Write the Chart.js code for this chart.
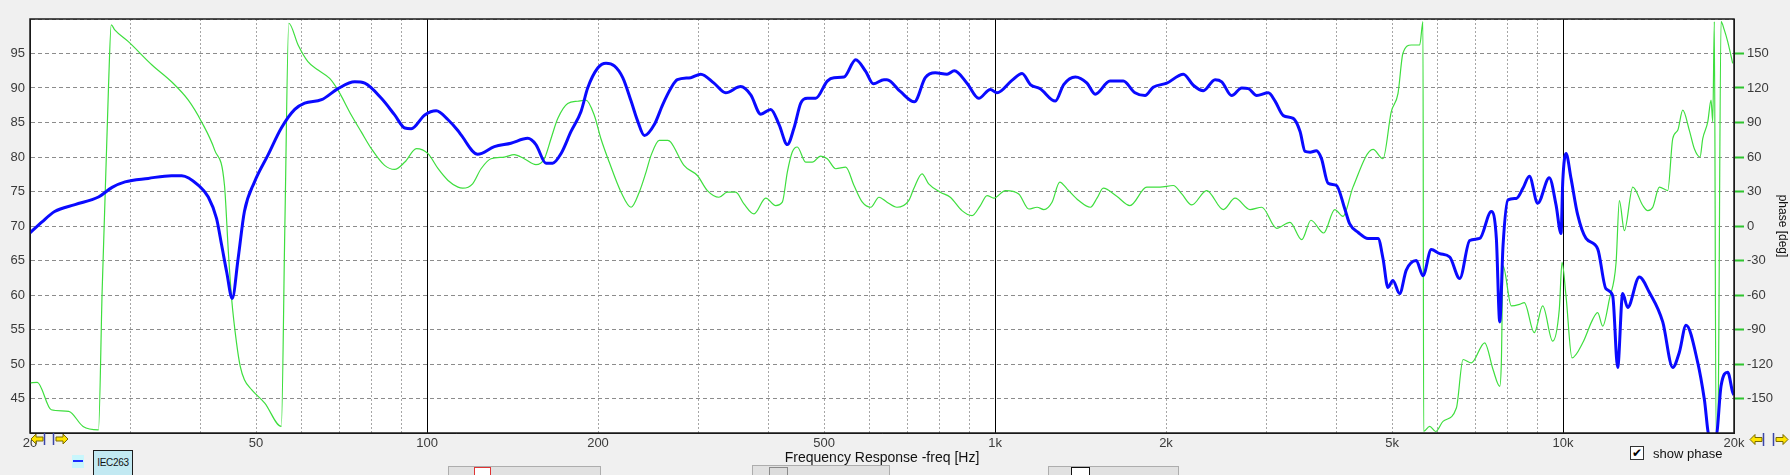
<!DOCTYPE html>
<html><head><meta charset="utf-8">
<script src="https://cdn.jsdelivr.net/npm/chart.js@4.4.1/dist/chart.umd.min.js"></script>
<style>
html,body{margin:0;padding:0;background:#f0f0f0;}
#wrap{position:relative;width:1790px;height:475px;overflow:hidden;font-family:"Liberation Sans",Arial,sans-serif;}
#c{position:absolute;left:0;top:0;}
.abs{position:absolute;box-sizing:border-box;}
.btn{background:#e1e1e1;border:1px solid #adadad;height:24px;}
</style></head><body>
<div id="wrap">
<canvas id="c" width="1790" height="475"></canvas>
<svg class="abs" style="left:30px;top:432px" width="40" height="14" viewBox="0 0 40 14">
  <polygon points="1,7 6,2 6,5 13,5 13,9 6,9 6,12" fill="#ffe400" stroke="#7a6a00" stroke-width="1"/>
  <line x1="14.5" y1="1" x2="14.5" y2="13" stroke="#3a44a8" stroke-width="1.5"/>
  <line x1="23.5" y1="1" x2="23.5" y2="13" stroke="#3a44a8" stroke-width="1.5"/>
  <polygon points="26,5 33,5 33,2 38,7 33,12 33,9 26,9" fill="#ffe400" stroke="#7a6a00" stroke-width="1"/>
</svg>
<svg class="abs" style="left:1749px;top:432px" width="41" height="15" viewBox="0 0 41 15">
  <polygon points="1,7.5 6,2.5 6,5.5 13,5.5 13,9.5 6,9.5 6,12.5" fill="#ffe400" stroke="#7a6a00" stroke-width="1"/>
  <line x1="14.5" y1="1" x2="14.5" y2="14" stroke="#3a44a8" stroke-width="1.5"/>
  <line x1="24.5" y1="1" x2="24.5" y2="14" stroke="#3a44a8" stroke-width="1.5"/>
  <polygon points="27,5.5 34,5.5 34,2.5 39,7.5 34,12.5 34,9.5 27,9.5" fill="#ffe400" stroke="#7a6a00" stroke-width="1"/>
</svg>
<div class="abs" style="left:72px;top:455px;width:12px;height:13px;background:#c8f6fc;"></div>
<div class="abs" style="left:73px;top:460px;width:10px;height:2px;background:#1a2cff;"></div>
<div class="abs" style="left:93px;top:450px;width:40px;height:30px;background:#c2e9f2;border:1.5px solid #1c1c1c;font-size:10px;line-height:12px;padding-top:6px;text-align:center;color:#111;letter-spacing:-0.3px;">IEC263</div>
<div class="abs btn" style="left:448px;top:466px;width:153px;"></div>
<div class="abs" style="left:474px;top:467px;width:17px;height:12px;background:#fff;border:1.5px solid #e03434;"></div>
<div class="abs btn" style="left:752px;top:465px;width:138px;"></div>
<div class="abs" style="left:769px;top:467px;width:19px;height:12px;background:#dcdcdc;border:1px solid #8a8a8a;"></div>
<div class="abs btn" style="left:1048px;top:466px;width:131px;"></div>
<div class="abs" style="left:1071px;top:467px;width:19px;height:12px;background:#fff;border:1.5px solid #111;"></div>
<div class="abs" style="left:1630px;top:446px;width:14px;height:14px;background:#fff;border:1px solid #333;font-size:12px;line-height:12px;text-align:center;color:#000;">&#10004;</div>
<div class="abs" style="left:1653px;top:446px;font-size:13px;line-height:15px;color:#111;">show phase</div>
</div>
<script>
// ---- data ----
const magFreq = [20,21.0,22.1,24.0,26.4,27.9,29.4,32.3,35.5,37.0,39.6,41.2,42.6,43.5,44.4,45.4,46.5,47.7,49.7,52.5,55.4,58.5,60.9,65.2,69.7,74.6,77.7,83.1,87.7,91.4,93.8,99.1,103.8,108.9,113.4,114.8,122.8,131.4,140.5,150.4,155.5,162.0,166.4,172.2,179.3,186.7,191.8,199.8,206.6,213.7,221.1,228.7,234.9,241.4,251.3,260.0,268.9,275.9,291.3,303.3,320.1,335.6,356.7,371.5,386.9,402.8,416.7,430.9,442.7,455.0,467.2,483.4,506.6,520.6,542.2,568.5,592.0,610.6,637.6,645.4,681.1,721.0,753.8,785.0,823.2,848.0,892.6,936.0,981.2,1008,1071,1116,1154,1201,1277,1321,1385,1452,1501,1594,1682,1764,1837,1899,2006,2146,2234,2327,2440,2507,2610,2719,2793,2889,3028,3112,3218,3350,3444,3515,3587,3679,3755,3858,3990,4128,4212,4356,4536,4724,4820,4918,5018,5156,5297,5516,5668,5862,6066,6317,6579,6851,7135,7478,7632,7738,7842,8001,8276,8504,8724,9026,9458,9719,9920,9990,10122,10330,10614,10978,11508,11902,12230,12480,12736,12996,13624,14188,14982,15602,16026,16466,17266,17734,18096,18596,18976,19496,19894,20000];
const magDb = [69.0,70.6,72.1,73.1,74.2,75.6,76.4,76.9,77.3,77.3,75.9,74.2,71.1,67.2,63.3,59.5,65.3,72.1,76.4,80.3,84.2,86.9,87.8,88.3,89.9,90.9,90.7,88.5,86.1,84.2,84.1,86.1,86.7,85.4,83.8,83.2,80.4,81.5,82.0,82.7,81.8,79.1,79.1,80.5,83.7,86.6,90.0,92.9,93.6,93.2,91.5,88.1,85.2,83.1,84.7,87.6,90.0,91.2,91.5,92.0,90.7,89.3,90.2,89.0,86.2,86.9,84.7,81.8,84.2,87.8,88.5,88.5,91.0,91.5,91.6,94.1,92.4,90.6,91.2,91.2,89.5,88.0,91.5,92.2,92.0,92.5,90.7,88.5,89.8,89.3,91.1,92.1,90.5,89.9,88.1,90.5,91.6,90.7,89.1,91.0,91.0,89.3,88.9,90.1,90.7,92.0,90.4,89.6,91.2,90.9,88.9,90.0,89.9,88.9,89.3,88.1,86.0,85.6,83.7,80.8,80.7,80.9,79.8,76.2,75.9,72.5,70.3,69.1,68.2,68.2,65.3,61.1,62.1,60.2,63.6,65.0,62.8,66.6,66.0,65.5,62.4,67.9,68.2,72.1,68.2,56.1,67.2,73.8,74.0,75.5,77.2,73.3,77.0,73.1,68.9,76.5,80.5,76.9,71.6,68.2,66.7,60.9,59.9,49.5,60.2,58.2,62.6,60.4,56.1,49.5,51.7,55.6,50.2,44.9,39.5,39.5,46.8,48.8,45.9,45.5];

const phaseFreq = [20,20.6,21.8,23.4,24.8,26.4,26.8,27.5,27.8,28.2,29.8,32.8,35.5,38.0,40.1,42.3,44.0,44.7,45.3,46.2,46.9,47.7,49.1,51.8,55.4,56.2,57.1,59.3,61.7,64.3,67.4,69.7,73.6,76.6,79.8,84.2,87.7,91.4,95.8,100.4,104.6,108.9,113.4,115.6,120.3,124.5,129.6,136.8,142.4,148.3,155.5,160.9,165.3,169.9,176.9,184.2,190.5,197.0,202.4,209.3,219.6,228.7,236.4,243.0,248.0,256.4,265.4,268.6,283.4,299.2,311.6,326.6,337.8,349.5,361.4,376.4,394.8,411.0,422.2,430.9,439.6,448.6,464.1,476.8,493.3,506.6,524.3,546.0,564.6,584.0,604.2,624.8,645.4,672.0,704.8,719.2,743.8,764.2,801.2,834.2,874.6,911.0,942.2,968.2,994.8,1043,1101,1147,1186,1219,1260,1300,1339,1404,1472,1512,1551,1638,1728,1850,1952,2060,2132,2220,2358,2523,2646,2812,2949,3133,3306,3467,3600,3790,3964,4098,4268,4630,4820,4984,5122,5226,5408,5594,5668,5684,5824,5968,6148,6490,6668,6896,7280,7530,7738,7788,7842,8110,8390,8548,8900,9210,9590,9850,9960,10122,10372,10832,11280,11508,11746,12066,12400,12566,12824,13268,13818,14100,14388,14778,15290,15602,15922,16248,16688,17030,17426,17620,17982,18224,18350,18468,18596,18740,18976,19228,19496,19894];
const phaseDeg = [-136.5,-135.9,-159.8,-161.2,-174.3,-177.2,-55,122.5,174.9,170.5,160.3,140,125.4,109.4,90.5,65.8,35.2,-23,-63.7,-101.6,-122,-133.6,-142.3,-154,-174.3,0.3,176.3,157.4,142.9,135.6,128.3,118.1,96.3,81.8,67.2,52.7,49.2,55.6,67.2,62.9,49.8,39.6,33.8,32.9,36.7,49.8,58.5,59.9,62.0,58.5,53.3,58.5,75.9,93.4,106.5,108.5,109.4,96.3,75.9,55.6,29.4,16.3,29.4,46.9,61.4,74.5,74.5,73,52.7,43.9,30.8,25,29.4,29.4,19.2,10.5,24.2,17.8,20.7,46.9,64.3,68.7,55.6,55.6,60.8,58.5,49.8,51.2,35.2,20.7,16.3,25,20.7,16.3,22.1,32.3,45.4,36.7,29.4,25,13.4,9,17.8,26.5,24.2,30.8,27.9,14.8,16.3,14.3,20.7,38.1,32.3,22.1,16.3,24.2,32.9,25.9,17.8,33.8,33.8,35.2,27.9,18.3,30.8,14.3,24.2,14.3,16.3,-2,3.2,-11.9,5,-6.1,14.3,8.4,33.8,66.6,58.5,99.2,115.2,150.2,157.4,157.4,177.8,-178.7,-174.3,-178.7,-169.9,-158.3,-116.1,-119,-101.6,-124.8,-139.4,-119,-34.6,-69.5,-68.1,-66.6,-92.8,-69.5,-100.1,-72.5,-31.7,-60.8,-114.7,-101.6,-81.2,-75.4,-87,-63.7,-31.7,22.1,-4.1,33.8,17.8,13.4,16.3,33.8,30.8,76,83.2,100.7,83.2,67.2,60,76,90.5,109.4,90.5,177.8,-178.7,-172,177.8,170.5,160.3,141.4];

const xGridValues = [20,30,40,50,60,70,80,90,100,200,300,400,500,600,700,800,900,1000,2000,3000,4000,5000,6000,7000,8000,9000,10000,20000];
const xMajorValues = [100,1000,10000];
const xLabelValues = [20,50,100,200,500,1000,2000,5000,10000,20000];
const xLabelText = ['20','50','100','200','500','1k','2k','5k','10k','20k'];
const yGridValues = [40,45,50,55,60,65,70,75,80,85,90,95,100];
const yLabelValues = [45,50,55,60,65,70,75,80,85,90,95];
const phaseTickValues = [-180,-150,-120,-90,-60,-30,0,30,60,90,120,150,180];
const phaseLabelValues = [-150,-120,-90,-60,-30,0,30,60,90,120,150];

// ---- chart ----
const FONT = '"Liberation Sans", Arial, sans-serif';
Chart.defaults.font.family = FONT;
Chart.defaults.font.size = 13;

const magData = magFreq.map((f, i) => ({x: f, y: magDb[i]}));
const phaseData = phaseFreq.map((f, i) => ({x: f, y: phaseDeg[i]}));

const bgPlugin = {
  id: 'bg',
  beforeDraw(chart) {
    const {ctx, chartArea: a} = chart;
    ctx.save();
    ctx.fillStyle = '#f0f0f0';
    ctx.fillRect(0, 0, chart.width, chart.height);
    ctx.fillStyle = '#ffffff';
    ctx.fillRect(a.left, a.top, a.right - a.left, a.bottom - a.top);
    ctx.restore();
  },
  afterDatasetsDraw(chart) {
    const {ctx, chartArea: a} = chart;
    ctx.save();
    ctx.strokeStyle = '#1a1a1a';
    ctx.lineWidth = 1.5;
    ctx.strokeRect(a.left, a.top, a.right - a.left, a.bottom - a.top);
    ctx.restore();
  }
};

const isMajor = ctx => ctx && ctx.tick && xMajorValues.includes(ctx.tick.value);

new Chart(document.getElementById('c'), {
  type: 'line',
  data: {
    datasets: [
      {label: 'IEC263', data: magData, yAxisID: 'y', borderColor: '#0a0aff', borderWidth: 3,
       pointRadius: 0, cubicInterpolationMode: 'monotone', order: 0},
      {label: 'phase', data: phaseData, yAxisID: 'y2', borderColor: '#3ede3e', borderWidth: 1.2,
       pointRadius: 0, cubicInterpolationMode: 'monotone', order: 1}
    ]
  },
  options: {
    responsive: false,
    animation: false,
    devicePixelRatio: 1,
    layout: {padding: {top: 19, left: 0, right: 0, bottom: 0}},
    plugins: {legend: {display: false}, tooltip: {enabled: false}},
    scales: {
      x: {
        type: 'logarithmic', position: 'bottom', min: 20, max: 20000,
        afterBuildTicks: s => { s.ticks = xGridValues.map(v => ({value: v})); },
        afterFit: s => { s.height = 42; },
        ticks: {
          autoSkip: false, maxRotation: 0, minRotation: 0, padding: 3, color: '#3a3a3a',
          font: {size: 13},
          callback: v => { const i = xLabelValues.indexOf(v); return i >= 0 ? xLabelText[i] : ''; }
        },
        grid: {
          drawTicks: false, lineWidth: 1,
          color: ctx => isMajor(ctx) ? '#000000' : '#a6a6a6'
        },
        border: {display: true, color: '#1a1a1a', width: 1,
          dash: ctx => isMajor(ctx) ? [] : [2, 2]},
        title: {display: true, text: 'Frequency Response -freq [Hz]', color: '#111',
          font: {size: 14}, padding: {top: 0, bottom: 8}}
      },
      y: {
        type: 'linear', position: 'left', min: 40, max: 100,
        afterBuildTicks: s => { s.ticks = yGridValues.map(v => ({value: v})); },
        afterFit: s => { s.width = 30; },
        ticks: {
          padding: 5, color: '#3a3a3a', font: {size: 13},
          callback: v => yLabelValues.includes(v) ? String(v) : ''
        },
        grid: {drawTicks: false, color: '#8c8c8c', lineWidth: 1},
        border: {display: true, color: '#1a1a1a', dash: [4, 3]}
      },
      y2: {
        type: 'linear', position: 'right', min: -180, max: 180,
        afterBuildTicks: s => { s.ticks = phaseTickValues.map(v => ({value: v})); },
        afterFit: s => { s.width = 56; },
        ticks: {
          padding: 3, color: '#3a3a3a', font: {size: 13},
          callback: v => phaseLabelValues.includes(v) ? String(v) : ''
        },
        grid: {
          drawOnChartArea: false, drawTicks: true, tickLength: 10, tickWidth: 2,
          tickColor: ctx => (ctx.tick && phaseLabelValues.includes(ctx.tick.value)) ? '#2ec42e' : 'rgba(0,0,0,0)'
        },
        border: {display: true, color: '#1a1a1a'},
        title: {display: true, text: 'phase [deg]', color: '#111', font: {size: 12},
          padding: {top: 0, bottom: 0}}
      }
    }
  },
  plugins: [bgPlugin]
});
</script>
</body></html>
